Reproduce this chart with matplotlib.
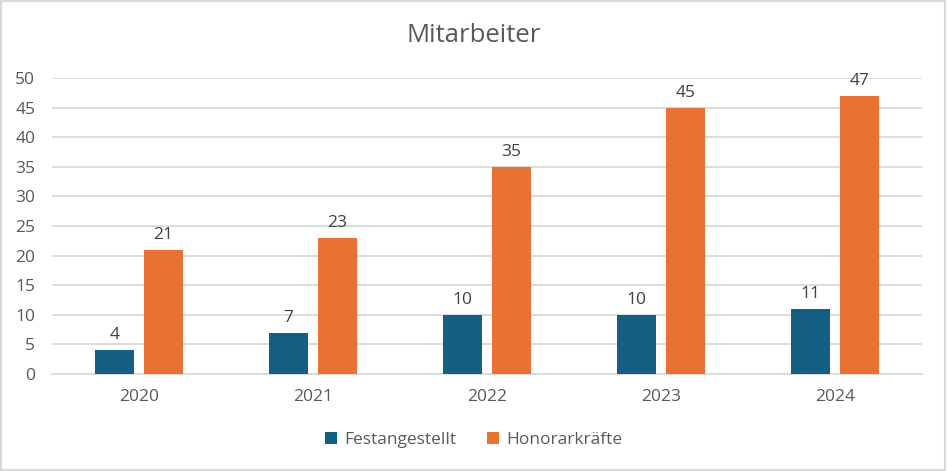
import matplotlib
matplotlib.use("Agg")
import matplotlib.pyplot as plt
import numpy as np

years = ["2020", "2021", "2022", "2023", "2024"]
festangestellt = [4, 7, 10, 10, 11]
honorarkraefte = [21, 23, 35, 45, 47]
series_names = ["Festangestellt", "Honorarkräfte"]

BLUE = "#156082"
ORANGE = "#E97132"
TEXT = "#595959"
GRID = "#D9D9D9"

plt.rcParams["font.family"] = ["Open Sans", "DejaVu Sans"]

fig = plt.figure(figsize=(9.47, 4.71), dpi=100)
ax = fig.add_axes([52 / 947, 1 - 374 / 471, 870 / 947, 296 / 471])

x = np.arange(len(years))
width = 0.224
offset = 0.141
b1 = ax.bar(x - offset, festangestellt, width, color=BLUE, label=series_names[0], zorder=3)
b2 = ax.bar(x + offset, honorarkraefte, width, color=ORANGE, label=series_names[1], zorder=3)

for bars in (b1, b2):
    ax.bar_label(bars, padding=5, fontsize=12.5, color="#404040")

ax.set_xlim(-0.5, len(years) - 0.5)
ax.set_ylim(0, 50)
ax.set_yticks(range(0, 51, 5))
ax.set_xticks(x)
ax.set_xticklabels(years)
ax.yaxis.grid(True, color=GRID, linewidth=1.3, zorder=0)
ax.tick_params(axis="both", length=0, labelsize=12.5, colors=TEXT)
ax.tick_params(axis="y", pad=12)
ax.tick_params(axis="x", pad=11)
for side in ("top", "right", "left"):
    ax.spines[side].set_visible(False)
ax.spines["bottom"].set_color(GRID)
ax.spines["bottom"].set_linewidth(1.3)

fig.text(0.5, 1 - 36 / 471, "Mitarbeiter", ha="center", va="center",
         fontsize=18.5, color=TEXT)

fig.legend(handles=[b1, b2], loc="center", bbox_to_anchor=(0.5, 1 - 440 / 471),
           ncol=2, frameon=False, fontsize=12.5, labelcolor=TEXT,
           handlelength=0.7, handleheight=0.7, handletextpad=0.4, columnspacing=1.8)

border = plt.Rectangle((0.001, 0.002), 0.997, 0.995, transform=fig.transFigure,
                       fill=False, edgecolor=GRID, linewidth=1.5)
fig.patches.append(border)

fig.savefig("out.png", dpi=100)
